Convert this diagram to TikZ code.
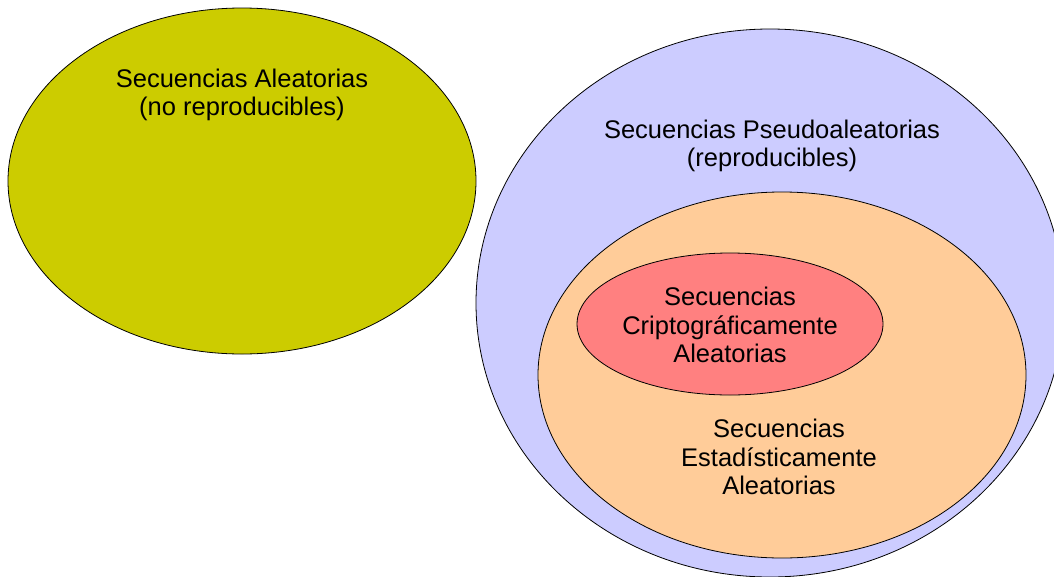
\documentclass[tikz,border=0pt]{standalone}
\usepackage{fontspec}
\setmainfont{Liberation Sans}
\usetikzlibrary{shapes.geometric}

\definecolor{aleacol}{HTML}{CCCC00}
\definecolor{pseudocol}{HTML}{CCCCFF}
\definecolor{estcol}{HTML}{FFCC99}
\definecolor{criptocol}{HTML}{FF8080}

\begin{document}
\begin{tikzpicture}[x=1pt,y=-1pt,
    set node/.style={ellipse,draw,line width=0.8pt,inner sep=0pt,outer sep=0pt},
    label node/.style={align=center,font=\fontsize{25.5}{28.5}\selectfont}]

\useasboundingbox (0,0) rectangle (1054,576);
\clip (0,0) rectangle (1054,576);

\node[set node,fill=aleacol,minimum width=468pt,minimum height=346pt] (alea) at (242,181) {};
\node[set node,fill=pseudocol,minimum width=588pt,minimum height=548pt] (pseudo) at (770,303) {};
\node[set node,fill=estcol,minimum width=488pt,minimum height=366pt] (est) at (782,375) {};
\node[set node,fill=criptocol,minimum width=306pt,minimum height=142pt] (cripto) at (730,324) {};

\node[label node] (alea label) at (242,95) {Secuencias Aleatorias\\(no reproducibles)};
\node[label node] (pseudo label) at (772,146) {Secuencias Pseudoaleatorias\\(reproducibles)};
\node[label node] (cripto label) at (730,325) {Secuencias\\Criptográficamente\\Aleatorias};
\node[label node] (est label) at (779,457) {Secuencias\\Estadísticamente\\Aleatorias};

\end{tikzpicture}
\end{document}
